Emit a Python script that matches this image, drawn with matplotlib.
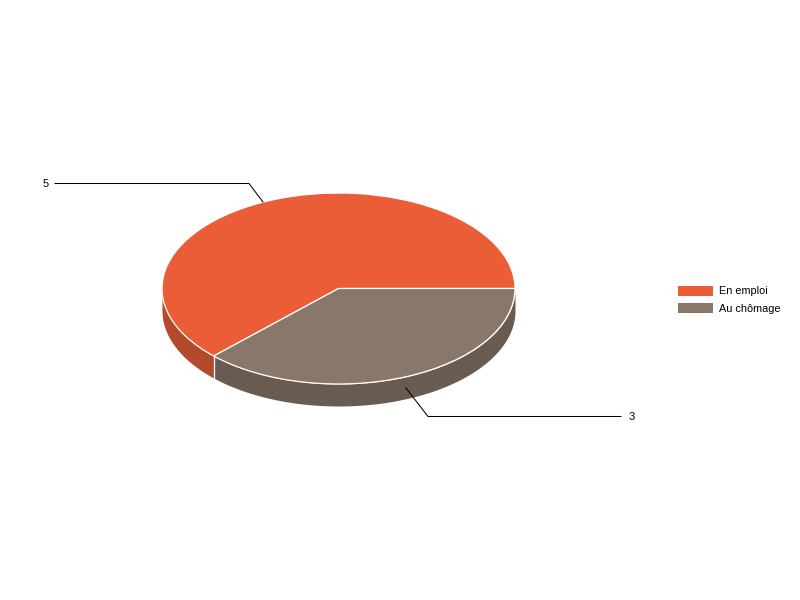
import numpy as np
import matplotlib
matplotlib.use("Agg")
import matplotlib.pyplot as plt

plt.rcParams['font.family'] = ['Liberation Sans', 'DejaVu Sans']

labels = ['En emploi', 'Au chômage']
valeurs = [5, 3]
couleurs = ['#EA5D36', '#89786A']
couleurs_cote = ['#B34A2A', '#6A5B50']

# geometrie du camembert en pixels
W, H = 800, 600
cx, cy = 338.5, 288.5
rx, ry = 176.5, 95.5
prof = 22

def px(x, y):
    return (x - cx) / rx, (cy - y) / ry

fig = plt.figure(figsize=(8, 6), dpi=100)
ax = fig.add_axes([0, 0, 1, 1])

parts, _ = ax.pie(valeurs, colors=couleurs, startangle=0, counterclock=True,
                  wedgeprops={'edgecolor': 'white', 'linewidth': 0.9, 'zorder': 3})
ax.set_aspect('auto')
ax.set_xlim(px(0, 0)[0], px(W, 0)[0])
ax.set_ylim(px(0, H)[1], px(0, 0)[1])

# le cote visible (moitie basse du camembert)
d = prof / ry
for part, c in zip(parts, couleurs_cote):
    t1 = max(part.theta1, 180)
    t2 = min(part.theta2, 360)
    if t2 <= t1:
        continue
    t = np.radians(np.linspace(t1, t2, 200))
    ax.fill_between(np.cos(t), np.sin(t), np.sin(t) - d, color=c, lw=0, zorder=1)

# trait blanc sur le cote, a la separation
a = np.radians(parts[0].theta2)
ax.plot([np.cos(a), np.cos(a)], [np.sin(a), np.sin(a) - d], color='white', lw=0.9, zorder=2)

# lignes de rappel
coudes = [(249, 183.5), (428, 416.5)]
fins = [(55, 183.5), (621, 416.5)]
ancrages = [(263, 202), (406, 388)]
for v, deb, coude, fin in zip(valeurs, ancrages, coudes, fins):
    pts = np.array([px(*deb), px(*coude), px(*fin)])
    ax.plot(pts[:, 0], pts[:, 1], color='black', lw=0.75, zorder=4, solid_joinstyle='miter')
    if fin[0] < coude[0]:
        tx, ha = px(fin[0] - 6, fin[1] + 0.7), 'right'
    else:
        tx, ha = px(fin[0] + 8, fin[1]), 'left'
    ax.text(tx[0], tx[1], str(v), ha=ha, va='center', fontsize=8, color='black')

handles = [plt.Rectangle((0, 0), 1, 1, color=c, lw=0) for c in couleurs]
fig.legend(handles, labels, loc='upper left', bbox_to_anchor=(678 / W, 1 - 285.5 / H),
           frameon=False, fontsize=7.8, borderpad=0, borderaxespad=0,
           handlelength=3.23, handleheight=1.05, handletextpad=0.56, labelspacing=0.62)

plt.savefig('out.png', dpi=100)
